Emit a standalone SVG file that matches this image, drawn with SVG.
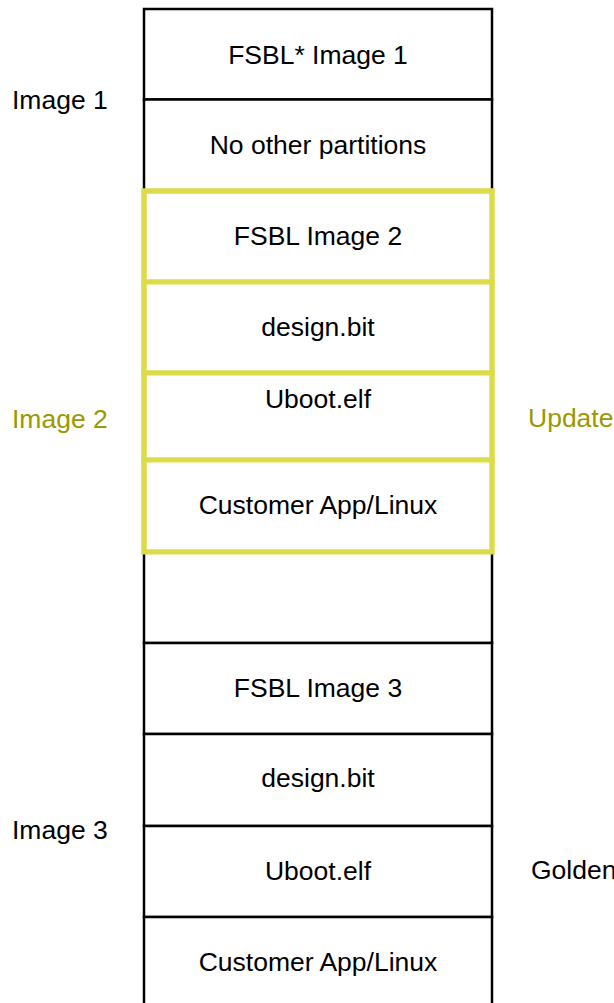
<svg xmlns="http://www.w3.org/2000/svg" width="614" height="1003" viewBox="0 0 614 1003">
<style>
.cell{fill:#ffffff;stroke:#000000;stroke-width:2.5}
.ycell{fill:#ffffff;stroke:#dcdc4a;stroke-width:5}
text{font-family:"Liberation Sans",Arial,sans-serif;font-size:26.5px;fill:#000000}
.c{text-anchor:middle}
.olive{fill:#999900}
</style>
<rect width="614" height="1003" fill="#ffffff"/>
<g id="n1"><rect class="cell" x="144" y="9" width="348" height="90.5"/><text class="c" x="318" y="63.5">FSBL* Image 1</text></g>
<g id="n2"><rect class="cell" x="144" y="99.5" width="348" height="91.5"/><text class="c" x="318" y="154">No other partitions</text></g>
<g id="n3"><rect class="ycell" x="144" y="191" width="348" height="91"/><text class="c" x="318" y="245">FSBL Image 2</text></g>
<g id="n4"><rect class="ycell" x="144" y="282" width="348" height="91"/><text class="c" x="318" y="336">design.bit</text></g>
<g id="n5"><rect class="ycell" x="144" y="373" width="348" height="87"/><text class="c" x="318" y="408">Uboot.elf</text></g>
<g id="n6"><rect class="ycell" x="144" y="460" width="348" height="92"/><text class="c" x="318" y="514">Customer App/Linux</text></g>
<g id="n7"><rect class="cell" x="144" y="552" width="348" height="91"/></g>
<g id="n8"><rect class="cell" x="144" y="643" width="348" height="91"/><text class="c" x="318" y="697">FSBL Image 3</text></g>
<g id="n9"><rect class="cell" x="144" y="734" width="348" height="92"/><text class="c" x="318" y="787">design.bit</text></g>
<g id="n10"><rect class="cell" x="144" y="826" width="348" height="91"/><text class="c" x="318" y="880">Uboot.elf</text></g>
<g id="n11"><rect class="cell" x="144" y="917" width="348" height="100"/><text class="c" x="318" y="971">Customer App/Linux</text></g>
<g id="yellow-frame"><rect x="144" y="191" width="348" height="361" fill="none" stroke="#dcdc4a" stroke-width="5"/></g>
<g id="labels">
<text x="12" y="109">Image 1</text>
<text class="olive" x="12" y="428">Image 2</text>
<text x="12" y="839">Image 3</text>
<text class="olive" x="528" y="427">Update</text>
<text x="531" y="879">Golden</text>
</g>
<g id="connectors"></g>
</svg>
